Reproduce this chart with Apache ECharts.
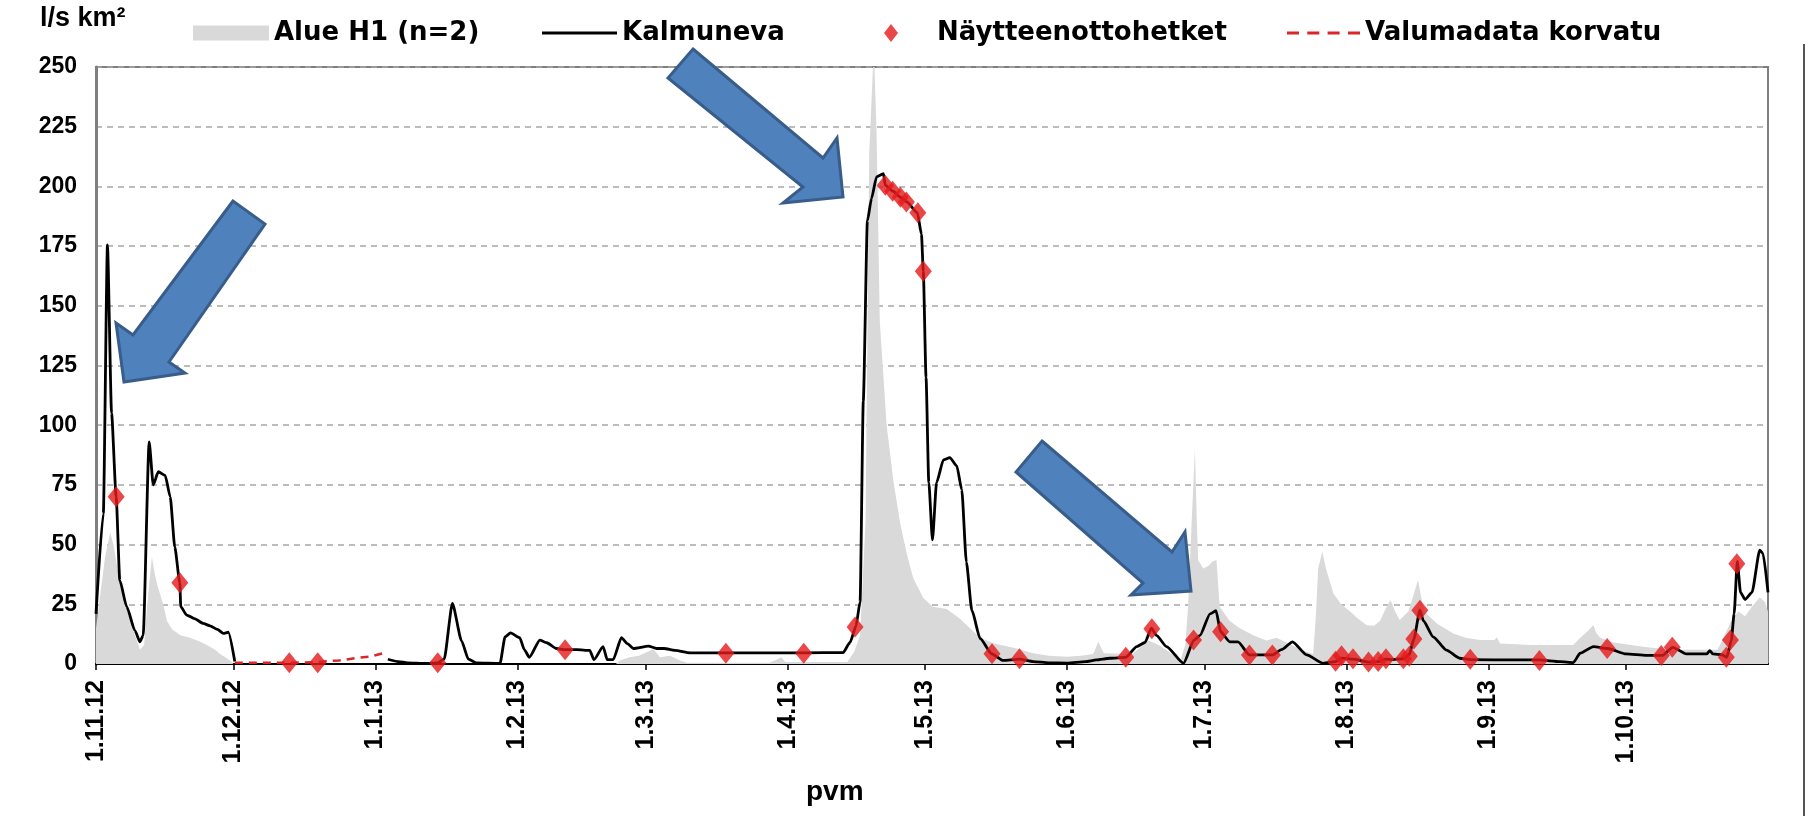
<!DOCTYPE html>
<html>
<head>
<meta charset="utf-8">
<title>Kalmuneva</title>
<script src="https://cdn.jsdelivr.net/npm/echarts@6/dist/echarts.min.js"></script>
<style>
  html, body { margin: 0; padding: 0; background: #fff; }
  #chart { width: 1808px; height: 816px; }
</style>
</head>
<body>
<div id="chart"></div>
<script>
// days counted from 1.11.2012, values l/s km²
const START = new Date(2012, 10, 1).getTime();
const DAY = 86400000;

const seriesNames = ['Alue H1 (n=2)', 'Kalmuneva', 'Näytteenottohetket', 'Valumadata korvatu'];

// grey area: Alue H1 (n=2)
const alueH1 = [
  [0, 15], [1, 30], [2, 45], [3.1, 55], [3.8, 50], [4.5, 42], [6, 28], [7.5, 18], [8.5, 12],
  [9.6, 6], [10.5, 8], [11.2, 25], [12.2, 45], [12.8, 38], [13.4, 33], [14.2, 28], [14.8, 24],
  [15.5, 18], [16.6, 14.5], [18.4, 12], [20.5, 11], [22.5, 9.5], [24.2, 8], [26, 6], [27.2, 4],
  [28.5, 2.5], [29.4, 1.3], [30, 0], [113.5, 0], [114.3, 1.5], [116.5, 2.8], [118.5, 3.5],
  [121.7, 6.3], [123.1, 2.8], [125.3, 3.5], [127.5, 1.5], [129, 0.5], [147, 0.5], [148.2, 1.5],
  [149.6, 2.8], [150.5, 0.8], [164, 0.8], [165.5, 5], [166.8, 12], [168, 60], [168.8, 214],
  [169.8, 258], [170.4, 222.6], [171.1, 143.6], [172.6, 99.9], [174.1, 76.3], [175.5, 59.5],
  [177, 46], [178.4, 36], [180.6, 27.6], [182.7, 24], [185.7, 23], [188.6, 19], [190.8, 15],
  [193, 11], [195.9, 8.7], [200.3, 6.8], [204.6, 4.5], [208, 3.5], [211.9, 3], [215, 3.5],
  [217.7, 4.2], [218.8, 9.3], [220, 4.5], [226.2, 4.2], [228, 7], [229.8, 9.8], [232, 8],
  [235, 4], [236.7, 1.5], [237.8, 8], [238.4, 24], [239.2, 60], [239.9, 90], [240.3, 60],
  [240.6, 43.6], [241.7, 40], [242.8, 41], [243.8, 43], [244.6, 43.6], [245.3, 24], [247.5, 18],
  [249.7, 15], [252.6, 12], [255.5, 9.8], [257.7, 11], [260.6, 8.4], [263, 6], [265.7, 4.2],
  [266.3, 20], [266.8, 40], [267.7, 47], [268.5, 40], [270.1, 29.6], [271.8, 25], [273.8, 22],
  [275.5, 19], [277.4, 16.2], [279, 16], [280.3, 18], [281.5, 23], [282.6, 26.8], [283.6, 22],
  [284.6, 18.4], [286.5, 22], [287.8, 30], [288.6, 35.2], [289.3, 28], [290, 22], [292.7, 17],
  [296.3, 12.8], [299, 11], [302.1, 10], [305.3, 10], [305.8, 11.2], [306.5, 8.6], [313.3, 8],
  [322.5, 8], [324, 11], [325.8, 14], [326.9, 16.3], [327.5, 13], [328.4, 11], [331.3, 9],
  [338.5, 7], [344.3, 6], [349.4, 6], [354, 6], [355.5, 12], [357, 18], [358.5, 22], [360, 20],
  [361.5, 24], [363.2, 28], [364.3, 26], [365, 22]
];

// black line: Kalmuneva (null = gap where data was replaced)
const kalmuneva = [
  [0, 21], [1.6, 63], [2.5, 175.5], [3.4, 105], [4.4, 70], [5.2, 35], [6.7, 24], [8.5, 14],
  [9.6, 9.3], [10.3, 12], [11.6, 93], [12.5, 75], [13.6, 80.5], [15.1, 79], [16.2, 70],
  [17.2, 49], [18.3, 34], [18.5, 24], [19.8, 20.5], [21.5, 19], [23.4, 17], [24.9, 16],
  [26.5, 14.5], [27.8, 12.8], [28.9, 13.3], [30.3, 1], [31, null],
  [63.7, 2], [66, 1], [68, 0.5], [72, 0.2], [74.6, 0.5], [76, 2], [77.8, 25.4], [79.8, 9.7],
  [81.3, 2], [83, 0.5], [88.2, 0.3], [89.3, 11.4], [90.5, 13], [92.5, 11], [93.5, 6], [94.6, 2.8],
  [96.9, 10], [98.4, 8.9], [100.5, 6.5], [102.4, 6], [105, 6], [107.8, 5.7], [108.7, 1.8],
  [110.7, 7.3], [111.6, 1.8], [112.9, 1.8], [114.7, 11], [116, 8.5], [117.3, 6.5], [120.6, 7.5],
  [122.4, 6.5], [124, 6.5], [126.4, 5.7], [129.7, 4.7], [137.3, 4.7], [154.4, 4.7], [163.1, 4.8],
  [164.6, 9], [165.9, 15.8], [166.8, 26], [167.5, 110], [168.4, 185.6], [169.3, 195], [170.4, 204],
  [171.9, 205.3], [172.3, 200.5], [174, 198], [175.6, 195.5], [177, 193.5], [179.3, 189],
  [180.2, 180], [180.6, 164.5], [181.2, 120], [181.8, 76], [182.6, 52], [183.5, 76], [185, 85.5],
  [186.4, 86.4], [187.9, 83], [189, 73], [190, 42.7], [191.2, 22.5], [193, 10.7], [195.5, 4.3],
  [198, 1.5], [201.6, 2], [204.6, 1], [208, 0.5], [212, 0.4], [216, 1], [218.4, 1.7], [221.3, 2.4],
  [224.8, 2.8], [227.2, 7.3], [229, 9], [230.4, 15], [231.5, 12], [233.7, 7.3], [237.4, 0.3],
  [239.7, 10], [241, 12], [243.2, 21], [244.5, 22.3], [245.5, 13.5], [247.5, 9.3], [249.3, 9.3],
  [251.8, 3.8], [256.8, 3.8], [258.8, 6], [261.2, 9.3], [264.3, 3.8], [267.9, 0.3], [270.6, 1],
  [272, 2.5], [274.4, 2], [277.8, 0.8], [280, 1], [281.6, 2], [283, 1.8], [285.4, 2.2], [286.7, 4],
  [287.7, 10.5], [289, 22.5], [289.8, 18], [291.9, 11.4], [294.8, 5.8], [297.7, 2.4], [300, 1.8],
  [310, 1.7], [315, 1.7], [319.6, 1], [322.5, 0.6], [324, 4.5], [326.9, 7.3], [330, 6.5], [334, 4.2],
  [338.5, 3.6], [342, 3.6], [344.2, 7], [347.2, 4.2], [351.6, 4.2], [352.3, 5.6], [353, 4.2],
  [355, 3.8], [356, 2.8], [357, 10], [357.6, 21], [358.3, 43], [359, 30], [360, 27], [361.5, 30],
  [363.2, 47.7], [363.9, 46.3], [365, 30]
];

// red diamonds: sampling times
const naytteet = [
  [4.4, 70], [18.3, 34], [42.2, 0.5], [48.4, 0.5], [74.6, 0.5], [102.4, 6], [137.5, 4.5],
  [154.5, 4.5], [165.7, 15.5], [172.3, 200.5], [173.9, 198], [175.6, 195.5], [176.9, 193.5],
  [179.4, 189], [180.6, 164.5], [195.6, 4.3], [201.6, 2.2], [224.8, 2.8], [230.5, 14.8],
  [239.6, 10.1], [245.5, 13.5], [251.8, 3.8], [256.8, 3.8], [270.6, 1.2], [271.9, 3.5],
  [274.4, 2.2], [277.8, 0.8], [279.9, 1], [281.6, 2.2], [285.4, 2.2], [286.7, 3.2], [287.7, 10.5],
  [289, 22.5], [300, 2], [315.1, 1.5], [329.9, 6.5], [341.7, 3.6], [344.1, 7], [355.9, 2.8],
  [356.8, 10], [358.2, 42]
];

// red dashed: replaced runoff data
const korvattu = [
  [30.3, 0.5], [36, 0.5], [42, 0.5], [48, 0.8], [53, 1.5], [57, 2.5], [60, 3.2], [62.7, 4.5]
];

const monthStarts = [0, 1, 2, 3, 4, 5, 6, 7, 8, 9, 10, 11].map(i => new Date(2012, 10 + i, 1).getTime());

const toTime = arr => arr.map(([d, v]) => [START + d * DAY, v]);

const FONT = "'Liberation Sans', Arial, sans-serif";
const LEGEND_FONT = "'DejaVu Sans', 'Liberation Sans', sans-serif";

function legendFor(name, left, w, h, extra) {
  return Object.assign({
    data: [name],
    left: left,
    top: 20,
    itemWidth: w,
    itemHeight: h,
    padding: 0,
    selectedMode: false,
    textStyle: { fontFamily: LEGEND_FONT, fontWeight: 'bold', fontSize: 26, color: '#000' }
  }, extra || {});
}

// arrows drawn on top of the chart (plain annotation shapes, pixel coords)
function arrow(points) {
  return {
    type: 'polygon',
    z: 100,
    shape: { points: points },
    style: { fill: '#4f81bd', stroke: '#385d8a', lineWidth: 3 }
  };
}

const chart = echarts.init(document.getElementById('chart'));

const option = {
  animation: false,
  backgroundColor: '#fff',
  grid: { left: 96, right: 40, top: 67, bottom: 152, show: true, borderColor: '#7f7f7f', borderWidth: 2 },
  legend: [
    legendFor(seriesNames[0], 193, 76, 15, { data: [{ name: seriesNames[0], icon: 'rect' }] }),
    legendFor(seriesNames[1], 542, 75, 3, { data: [{ name: seriesNames[1], icon: 'rect' }] }),
    legendFor(seriesNames[2], 884, 14, 18, {
      textStyle: { fontFamily: LEGEND_FONT, fontWeight: 'bold', fontSize: 26, color: '#000', padding: [0, 0, 0, 34] }
    }),
    legendFor(seriesNames[3], 1287, 73, 3, {
      data: [{
        name: seriesNames[3],
        icon: 'path://M0,0h12v3h-12z M20.3,0h12v3h-12z M40.6,0h12v3h-12z M61,0h12v3h-12z'
      }]
    })
  ],
  xAxis: {
    type: 'value',
    min: START,
    max: START + 365 * DAY,
    splitLine: { show: false },
    axisLine: { lineStyle: { color: '#000', width: 2 } },
    axisTick: { show: true, customValues: monthStarts, length: 6, lineStyle: { color: '#000', width: 1.5 } },
    axisLabel: {
      customValues: monthStarts,
      rotate: 90,
      margin: 16,
      fontFamily: FONT,
      fontWeight: 'bold',
      fontSize: 25,
      color: '#000',
      hideOverlap: false,
      formatter: val => {
        const dt = new Date(val);
        return dt.getDate() + '.' + (dt.getMonth() + 1) + '.' + String(dt.getFullYear()).slice(2);
      }
    }
  },
  yAxis: {
    type: 'value',
    min: 0,
    max: 250,
    interval: 25,
    axisLine: { show: true, lineStyle: { color: '#7f7f7f', width: 3 } },
    axisTick: { show: false },
    axisLabel: { margin: 19, fontFamily: FONT, fontWeight: 'bold', fontSize: 23, color: '#000' },
    splitLine: { lineStyle: { color: '#a6a6a6', type: [6, 5], width: 1.5 } }
  },
  series: [
    {
      name: seriesNames[0],
      type: 'line',
      data: toTime(alueH1),
      showSymbol: false,
      symbol: 'none',
      itemStyle: { color: '#d9d9d9' },
      lineStyle: { width: 0, color: '#d9d9d9' },
      areaStyle: { color: '#d9d9d9', opacity: 1 },
      z: 1
    },
    {
      name: seriesNames[1],
      type: 'line',
      data: toTime(kalmuneva),
      showSymbol: false,
      symbol: 'none',
      smooth: 0.2,
      smoothMonotone: 'x',
      connectNulls: false,
      itemStyle: { color: '#000' },
      lineStyle: { width: 2.8, color: '#000' },
      z: 3
    },
    {
      name: seriesNames[3],
      type: 'line',
      data: toTime(korvattu),
      showSymbol: false,
      symbol: 'none',
      itemStyle: { color: '#d9262a' },
      lineStyle: { width: 2.5, color: '#d9262a', type: [8, 6] },
      z: 4
    },
    {
      name: seriesNames[2],
      type: 'scatter',
      data: toTime(naytteet),
      symbol: 'diamond',
      symbolSize: [17, 21],
      itemStyle: { color: '#e5191c' },
      z: 5
    }
  ],
  graphic: [
    {
      type: 'text', left: 40, top: 5,
      style: { text: 'l/s km²', font: 'bold 27px ' + FONT, fill: '#000' }
    },
    {
      type: 'text', left: 806, top: 778,
      style: { text: 'pvm', font: 'bold 28px ' + FONT, fill: '#000' }
    },
    {
      type: 'line', z: 90,
      shape: { x1: 1804, y1: 44, x2: 1804, y2: 816 },
      style: { stroke: '#555', lineWidth: 2 }
    },
    arrow([[233, 201], [133, 335], [116, 323], [124, 382], [185, 373], [169, 362], [265, 224]]),
    arrow([[693, 49], [823, 158], [837, 138], [843, 197], [783, 203], [803, 187], [668, 78]]),
    arrow([[1042, 441], [1172, 552], [1185, 532], [1191, 591], [1131, 595], [1143, 583], [1016, 472]])
  ]
};

chart.setOption(option);
window.addEventListener('resize', () => chart.resize());
</script>
</body>
</html>
